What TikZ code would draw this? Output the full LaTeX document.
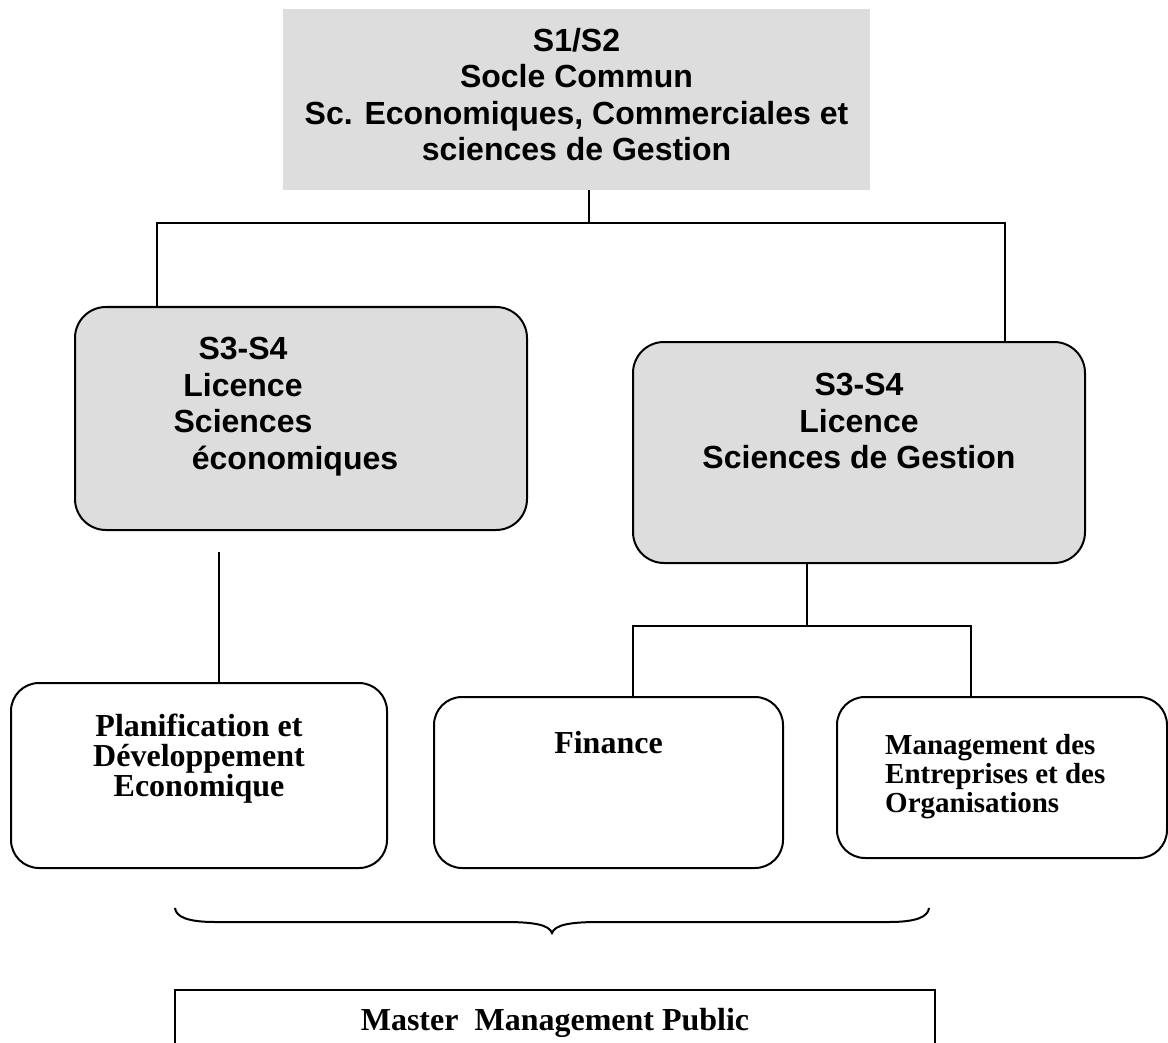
\documentclass[tikz,border=0pt]{standalone}
\usepackage{fontspec}
\setmainfont{Liberation Serif}
\newfontfamily\arialf{Liberation Sans}
\newfontfamily\timesf{Liberation Serif}
\definecolor{boxgray}{RGB}{221,221,221}
\tikzset{
  lin/.style={line width=2pt, draw=black},
  topbox/.style={rectangle, fill=boxgray, draw=none, inner sep=0pt, outer sep=0pt},
  graybox/.style={rectangle, rounded corners=31pt, fill=boxgray, draw=black, line width=2pt, inner sep=0pt, outer sep=0pt},
  whitebox/.style={rectangle, rounded corners=28pt, fill=white, draw=black, line width=2pt, inner sep=0pt, outer sep=0pt},
  sanstxt/.style={inner sep=0pt, align=center, font={\arialf\bfseries\fontsize{32pt}{36.5pt}\selectfont}},
  seriftxt/.style={inner sep=0pt, align=center, font={\timesf\bfseries\fontsize{32pt}{30pt}\selectfont}},
  seriftxtsmall/.style={inner sep=0pt, align=left, font={\timesf\bfseries\fontsize{29pt}{29pt}\selectfont}},
}
\begin{document}
\begin{tikzpicture}[x=1pt, y=-1pt]
\clip (0,0) rectangle (1168,1043);
\fill[white] (0,0) rectangle (1168,1043);

% top box
\node[topbox, minimum width=587pt, minimum height=181pt] (top) at (576.5,99.5) {};
\node[sanstxt, anchor=north] (toptxt) at (576.5,28) {S1/S2\\Socle Commun\\Sc. Economiques, Commerciales et\\sciences de Gestion};

% level 2 boxes
\node[graybox, minimum width=452pt, minimum height=223pt] (eco) at (301,418.5) {};
\node[sanstxt, anchor=north] (ecotxt) at (243,337) {S3-S4\\Licence\\Sciences};
\node[sanstxt, anchor=base] (ecotxtb) at (295,469.5) {économiques};

\node[graybox, minimum width=452pt, minimum height=221pt] (ges) at (859,452.5) {};
\node[sanstxt, anchor=north] (gestxt) at (859,373) {S3-S4\\Licence\\Sciences de Gestion};

% connectors from top
\coordinate (t1) at (589,223);
\coordinate (hl) at (157,223);
\coordinate (hr) at (1005,223);
\draw[lin] (t1 |- top.south) -- (t1);
\draw[lin] (hl |- eco.north) -- (hl) -- (hr) -- (hr |- ges.north);

% level 3 boxes
\node[whitebox, minimum width=376pt, minimum height=185pt] (plan) at (199,775.5) {};
\node[seriftxt, anchor=north] (plantxt) at (199,714) {Planification et\\Développement\\Economique};

\node[whitebox, minimum width=349pt, minimum height=171pt] (fin) at (608.5,782.5) {};
\node[seriftxt, anchor=north] (fintxt) at (608.5,731) {Finance};

\node[whitebox, minimum width=330pt, minimum height=161pt] (mgt) at (1002,777.5) {};
\node[seriftxtsmall, anchor=north west] (mgttxt) at (885,734) {Management des\\Entreprises et des\\Organisations};

% connectors to level 3
\coordinate (c1) at (219,552);
\draw[lin] (c1) -- (c1 |- plan.north);
\coordinate (c2) at (807,626);
\coordinate (c2l) at (633,626);
\coordinate (c2r) at (971,626);
\draw[lin] (c2 |- ges.south) -- (c2);
\draw[lin] (c2l |- fin.north) -- (c2l) -- (c2r) -- (c2r |- mgt.north);

% brace
\draw[lin] (175,908) .. controls (176,917) and (188,922) .. (215,922) -- (505,922)
  .. controls (535,922) and (549,925) .. (552,933)
  .. controls (555,925) and (569,922) .. (599,922) -- (889,922)
  .. controls (916,922) and (928,917) .. (929,908);

% master box
\node[rectangle, draw=black, line width=2pt, fill=white, minimum width=760pt, minimum height=120pt, anchor=north, inner sep=0pt, outer sep=0pt] (master) at (555,990) {};
\node[inner sep=0pt, anchor=base, font={\timesf\bfseries\fontsize{32pt}{36pt}\selectfont}] (mastertxt) at (555,1030) {Master\ \ Management Public};
\end{tikzpicture}
\end{document}
